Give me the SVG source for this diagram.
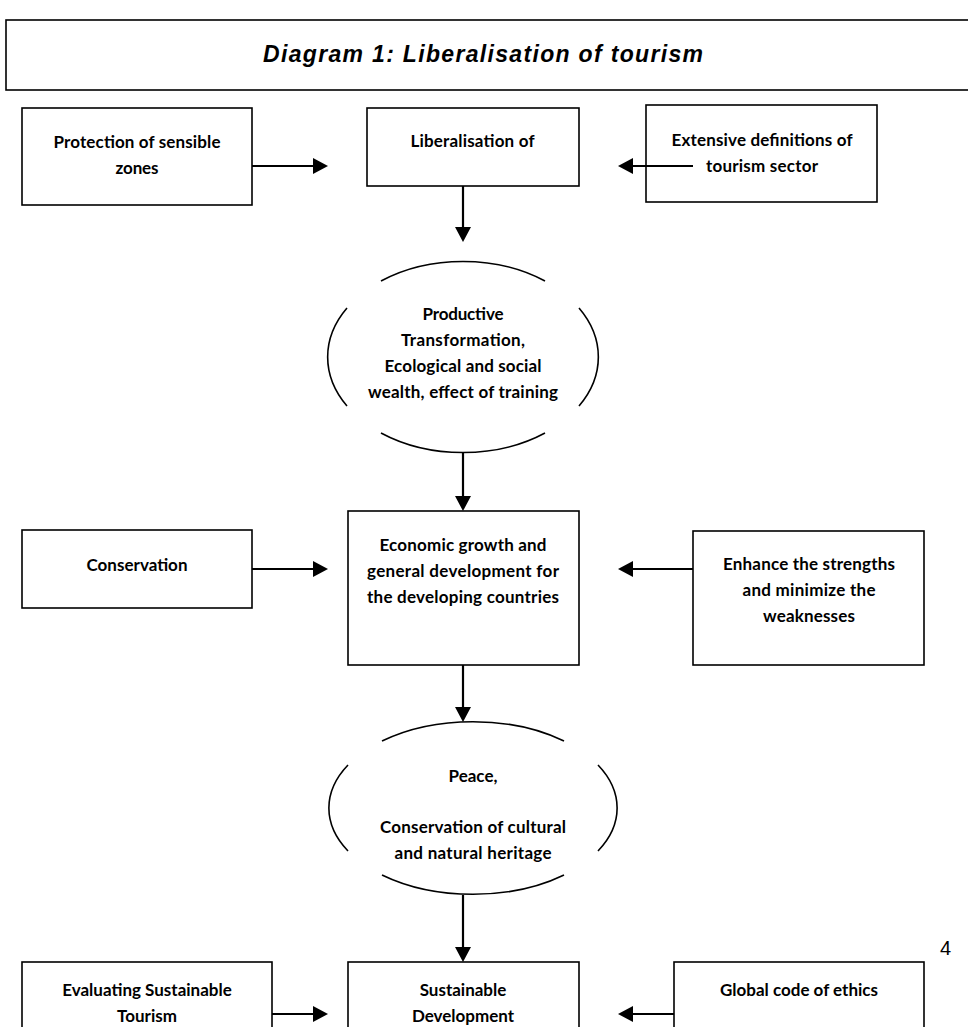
<svg xmlns="http://www.w3.org/2000/svg" width="968" height="1027" viewBox="0 0 968 1027">
<defs>
<marker id="ah" markerUnits="userSpaceOnUse" markerWidth="16" markerHeight="17" refX="5" refY="8" orient="auto">
<path d="M0,0 L15,8 L0,16 z" fill="#000"/>
</marker>
<style>
.box{fill:#fff;stroke:#000;stroke-width:1.6}
.arc{fill:none;stroke:#000;stroke-width:1.6}
.con{stroke:#000;stroke-width:2.2;fill:none}
.t{font-family:Lato,"Open Sans",sans-serif;font-weight:bold;font-size:17px;fill:#000;text-anchor:middle}
.title{font-family:"Liberation Sans",Arial,sans-serif;font-weight:bold;font-style:italic;font-size:23px;fill:#000;text-anchor:middle}
</style>
</defs>
<rect width="968" height="1027" fill="#fff"/>

<g id="title">
<rect class="box" x="6" y="20" width="970" height="70"/>
<text class="title" x="483" y="62" textLength="440">Diagram 1: Liberalisation of tourism</text>
</g>

<g id="protection">
<rect class="box" x="22" y="108" width="230" height="97"/>
<text class="t" x="137" y="148" textLength="167">Protection of sensible</text>
<text class="t" x="137" y="174" textLength="43">zones</text>
</g>

<g id="liberalisation">
<rect class="box" x="367" y="108" width="212" height="78"/>
<text class="t" x="472.5" y="147" textLength="124">Liberalisation of</text>
</g>

<g id="extensive">
<rect class="box" x="646" y="105" width="231" height="97"/>
<text class="t" x="762" y="146" textLength="181">Extensive definitions of</text>
<text class="t" x="762" y="172" textLength="112">tourism sector</text>
</g>

<g id="productive">
<path class="arc" d="M381,281 A135,95 0 0 1 545,281 M579,308 A135,95 0 0 1 579,406 M545,433 A135,95 0 0 1 381,433 M347,406 A135,95 0 0 1 347,308"/>
<text class="t" x="463" y="320" textLength="81">Productive</text>
<text class="t" x="463" y="346" textLength="124">Transformation,</text>
<text class="t" x="463" y="372" textLength="157">Ecological and social</text>
<text class="t" x="463" y="398" textLength="190">wealth, effect of training</text>
</g>

<g id="conservation">
<rect class="box" x="22" y="530" width="230" height="78"/>
<text class="t" x="137" y="571" textLength="101">Conservation</text>
</g>

<g id="economic">
<rect class="box" x="348" y="511" width="231" height="154"/>
<text class="t" x="463" y="551" textLength="167">Economic growth and</text>
<text class="t" x="463" y="577" textLength="192">general development for</text>
<text class="t" x="463" y="603" textLength="192">the developing countries</text>
</g>

<g id="enhance">
<rect class="box" x="693" y="531" width="231" height="134"/>
<text class="t" x="809" y="570" textLength="172">Enhance the strengths</text>
<text class="t" x="809" y="596" textLength="133">and minimize the</text>
<text class="t" x="809" y="622" textLength="92">weaknesses</text>
</g>

<g id="peace">
<path class="arc" d="M382,741 A144.5,86.5 0 0 1 564,741 M598,765 A144.5,86.5 0 0 1 598,851 M564,875 A144.5,86.5 0 0 1 382,875 M348,851 A144.5,86.5 0 0 1 348,765"/>
<text class="t" x="473" y="782" textLength="49">Peace,</text>
<text class="t" x="473" y="833" textLength="186">Conservation of cultural</text>
<text class="t" x="473" y="859" textLength="157">and natural heritage</text>
</g>

<g id="evaluating">
<rect class="box" x="22" y="962" width="250" height="80"/>
<text class="t" x="147" y="996">Evaluating Sustainable</text>
<text class="t" x="147" y="1022">Tourism</text>
</g>

<g id="sustainable">
<rect class="box" x="348" y="962" width="231" height="80"/>
<text class="t" x="463" y="996">Sustainable</text>
<text class="t" x="463" y="1022">Development</text>
</g>

<g id="global">
<rect class="box" x="674" y="962" width="250" height="80"/>
<text class="t" x="799" y="996">Global code of ethics</text>
</g>

<text id="pagenum" x="940" y="955" style="font-family:'Liberation Sans',Arial,sans-serif;font-size:20px;fill:#000">4</text>

<g id="connectors">
<line class="con" x1="252" y1="166" x2="318" y2="166" marker-end="url(#ah)"/>
<line class="con" x1="693" y1="166" x2="628" y2="166" marker-end="url(#ah)"/>
<line class="con" x1="463" y1="186" x2="463" y2="232" marker-end="url(#ah)"/>
<line class="con" x1="463" y1="452" x2="463" y2="501" marker-end="url(#ah)"/>
<line class="con" x1="252" y1="569" x2="318" y2="569" marker-end="url(#ah)"/>
<line class="con" x1="693" y1="569" x2="628" y2="569" marker-end="url(#ah)"/>
<line class="con" x1="463" y1="665" x2="463" y2="712" marker-end="url(#ah)"/>
<line class="con" x1="463" y1="895" x2="463" y2="952" marker-end="url(#ah)"/>
<line class="con" x1="272" y1="1014" x2="318" y2="1014" marker-end="url(#ah)"/>
<line class="con" x1="674" y1="1014" x2="628" y2="1014" marker-end="url(#ah)"/>
</g>
</svg>
